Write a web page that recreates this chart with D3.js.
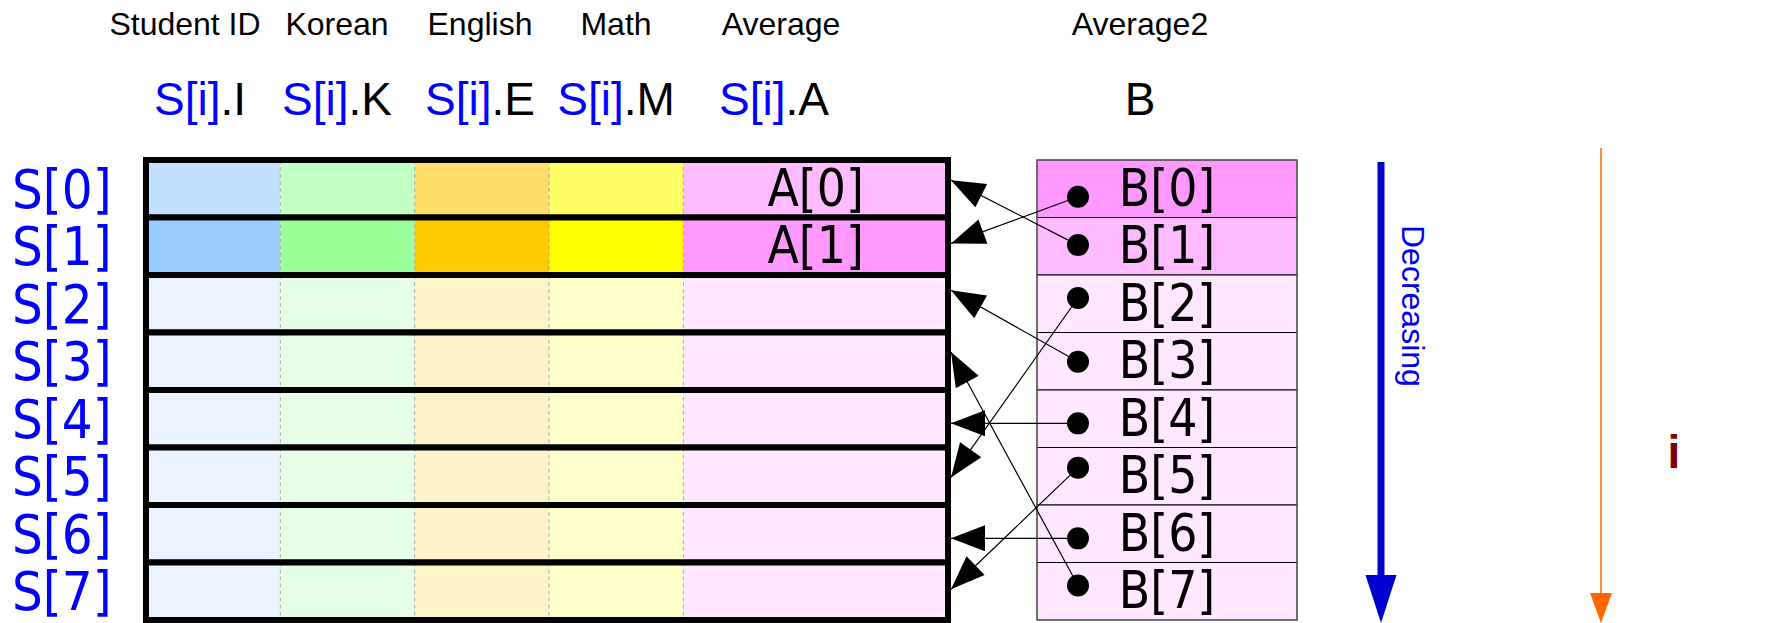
<!DOCTYPE html>
<meta charset="utf-8">
<style>
body { margin: 0; background: #fff; }
svg { display: block; }
.head { font-family: "Liberation Sans", Arial, sans-serif; }
.idx { font-family: "DejaVu Sans Condensed", "DejaVu Sans", sans-serif; font-stretch: condensed; }
</style>
<body>
<div id="chart"></div>
<script src="https://d3js.org/d3.v7.min.js"></script>
<script>

var width = 1775,
    height = 623;

// ---- data ----
var rowLabels = ["S[0]", "S[1]", "S[2]", "S[3]", "S[4]", "S[5]", "S[6]", "S[7]"];
var fieldNames = ["Student ID", "Korean", "English", "Math", "Average"];
var fieldKeys = ["I", "K", "E", "M", "A"];
var avgLabels = ["A[0]", "A[1]", "", "", "", "", "", ""];
var sortedLabels = ["B[0]", "B[1]", "B[2]", "B[3]", "B[4]", "B[5]", "B[6]", "B[7]"];
// B[k] takes its value from A[sortedFrom[k]]
var sortedFrom = [1, 0, 5, 2, 4, 7, 6, 3];
// hand drawn offsets (fraction of a row) of arrow tips and dots
var tipNudge = [-0.15, -0.05, -0.235, -0.16, 0.08, 0.02, 0.08, -0.035];
var dotNudge = [0.14, -0.02, -0.1, 0.01, 0.08, -0.15, 0.08, -0.1];

var rowColors = [
  ["#c2e0ff", "#c2ffc2", "#fddf6a", "#ffff66", "#ffbbff"],
  ["#99ccff", "#99ff99", "#ffcc00", "#ffff00", "#ff99ff"]
];
var plainColors = ["#eaf3ff", "#e6ffe6", "#fff3cc", "#ffffcc", "#ffe8ff"];
var sortedColors = ["#ff99ff", "#ffbbff"];
var sortedPlain = "#ffe8ff";

// ---- layout ----
var headX1 = [185, 337, 480, 616, 781];
var headX2 = [200, 337, 480, 616, 774];
var bHeadX = 1140;
var colUnits = [0, 1, 2, 3, 4, 5.97];
var headLen = 34, headHalf = 13;

var svg = d3.select("#chart").append("svg")
    .attr("width", width)
    .attr("height", height);

var y = d3.scaleBand().domain(d3.range(8)).range([160, 620]);
var cx = d3.scaleLinear().domain([0, 5.97]).range([146, 948]);
var bx = d3.scaleLinear().domain([0, 1]).range([1037, 1297]);
var rowMid = function(i) { return y(i) + y.bandwidth() / 2; };

// headers
svg.selectAll("text.field")
  .data(fieldNames.concat(["Average2"]))
  .enter().append("text")
    .attr("class", "head field")
    .attr("x", function(d, i) { return i < 5 ? headX1[i] : bHeadX; })
    .attr("y", 35)
    .attr("text-anchor", "middle")
    .style("font-size", "32px")
    .text(function(d) { return d; });

var sub = svg.selectAll("text.sub")
  .data(fieldKeys)
  .enter().append("text")
    .attr("class", "head sub")
    .attr("x", function(d, i) { return headX2[i]; })
    .attr("y", 115)
    .attr("text-anchor", "middle")
    .style("font-size", "46px");
sub.append("tspan").attr("fill", "#0000ff").text("S[i]");
sub.append("tspan").attr("fill", "#000").text(function(d) { return "." + d; });

svg.append("text")
    .attr("class", "head")
    .attr("x", bHeadX)
    .attr("y", 115)
    .attr("text-anchor", "middle")
    .style("font-size", "46px")
    .text("B");

// table rows
var rows = svg.selectAll("g.row")
  .data(rowLabels)
  .enter().append("g")
    .attr("class", "row");

rows.each(function(label, r) {
  var g = d3.select(this);
  var colors = r < 2 ? rowColors[r] : plainColors;
  g.selectAll("rect.cell")
    .data(colors)
    .enter().append("rect")
      .attr("x", function(d, c) { return cx(colUnits[c]); })
      .attr("y", y(r))
      .attr("width", function(d, c) { return cx(colUnits[c + 1]) - cx(colUnits[c]); })
      .attr("height", y.bandwidth())
      .attr("fill", function(d) { return d; });
  g.selectAll("line.sep")
    .data(colUnits.slice(1, 5))
    .enter().append("line")
      .attr("x1", function(d) { return cx(d); })
      .attr("x2", function(d) { return cx(d); })
      .attr("y1", y(r))
      .attr("y2", y(r) + y.bandwidth())
      .attr("stroke", "#aaa")
      .attr("stroke-width", 1)
      .attr("stroke-dasharray", "4,3");
  g.append("rect")
      .attr("x", cx(0))
      .attr("y", y(r))
      .attr("width", cx(5.97) - cx(0))
      .attr("height", y.bandwidth())
      .attr("fill", "none")
      .attr("stroke", "#000")
      .attr("stroke-width", 6);
  g.append("text")
      .attr("class", "idx")
      .attr("x", 12)
      .attr("y", rowMid(r) + 19)
      .attr("fill", "#0000ff")
      .style("font-size", "54px")
      .text(label);
  g.append("text")
      .attr("class", "idx")
      .attr("x", (cx(4) + cx(5.97)) / 2)
      .attr("y", rowMid(r) + 17)
      .attr("text-anchor", "middle")
      .style("font-size", "51px")
      .text(avgLabels[r]);
});

// sorted column B
var bcells = svg.selectAll("g.bcell")
  .data(sortedLabels)
  .enter().append("g")
    .attr("class", "bcell");
bcells.append("rect")
    .attr("x", bx(0))
    .attr("y", function(d, i) { return y(i); })
    .attr("width", bx(1) - bx(0))
    .attr("height", y.bandwidth())
    .attr("fill", function(d, i) { return i < 2 ? sortedColors[i] : sortedPlain; })
    .attr("stroke", "#000")
    .attr("stroke-width", 1);
bcells.append("text")
    .attr("class", "idx")
    .attr("x", (bx(0) + bx(1)) / 2)
    .attr("y", function(d, i) { return rowMid(i) + 17; })
    .attr("text-anchor", "middle")
    .style("font-size", "51px")
    .text(function(d) { return d; });
svg.append("rect")
    .attr("x", bx(0))
    .attr("y", y(0))
    .attr("width", bx(1) - bx(0))
    .attr("height", y.range()[1] - y(0))
    .attr("fill", "none")
    .attr("stroke", "#666")
    .attr("stroke-width", 1.2);

// arrows from B back to A
var dotX = bx(0) + 41;
var tipX = cx(5.97) + 3;
var links = sortedFrom.map(function(from, k) {
  return {
    x1: dotX, y1: rowMid(k) + dotNudge[k] * y.bandwidth(),
    x2: tipX, y2: rowMid(from) + tipNudge[from] * y.bandwidth()
  };
});

svg.selectAll("line.link")
  .data(links)
  .enter().append("line")
    .attr("class", "link")
    .attr("x1", function(d) { return d.x1; })
    .attr("y1", function(d) { return d.y1; })
    .attr("x2", function(d) { return d.x2; })
    .attr("y2", function(d) { return d.y2; })
    .attr("stroke", "#000")
    .attr("stroke-width", 1.2);

svg.selectAll("path.tip")
  .data(links)
  .enter().append("path")
    .attr("class", "tip")
    .attr("d", function(d) {
      var dx = d.x1 - d.x2, dy = d.y1 - d.y2;
      var len = Math.sqrt(dx * dx + dy * dy);
      var ux = dx / len, uy = dy / len;
      var bxp = d.x2 + ux * headLen, byp = d.y2 + uy * headLen;
      return "M" + d.x2 + "," + d.y2 +
        "L" + (bxp - uy * headHalf) + "," + (byp + ux * headHalf) +
        "L" + (bxp + uy * headHalf) + "," + (byp - ux * headHalf) + "Z";
    })
    .attr("fill", "#000");

svg.selectAll("circle.dot")
  .data(links)
  .enter().append("circle")
    .attr("cx", function(d) { return d.x1; })
    .attr("cy", function(d) { return d.y1; })
    .attr("r", 11)
    .attr("fill", "#000");

// "Decreasing" arrow
var blueX = 1381;
svg.append("line")
    .attr("x1", blueX).attr("x2", blueX)
    .attr("y1", 162).attr("y2", 580)
    .attr("stroke", "#0000cc")
    .attr("stroke-width", 7);
svg.append("path")
    .attr("d", "M" + (blueX - 15.5) + ",575L" + (blueX + 15.5) + ",575L" + blueX + ",623Z")
    .attr("fill", "#0000cc");
svg.append("text")
    .attr("class", "head")
    .attr("transform", "translate(1402,225) rotate(90)")
    .attr("fill", "#0000ee")
    .style("font-size", "32px")
    .text("Decreasing");

// index arrow
var orangeX = 1601;
svg.append("line")
    .attr("x1", orangeX).attr("x2", orangeX)
    .attr("y1", 148).attr("y2", 596)
    .attr("stroke", "#ff6600")
    .attr("stroke-width", 1.5);
svg.append("path")
    .attr("d", "M" + (orangeX - 11) + ",593L" + (orangeX + 11) + ",593L" + orangeX + ",623Z")
    .attr("fill", "#ff6600");
svg.append("text")
    .attr("class", "head")
    .attr("x", 1674)
    .attr("y", 468)
    .attr("text-anchor", "middle")
    .attr("fill", "#800000")
    .style("font-size", "46px")
    .style("font-weight", "bold")
    .text("i");

</script>
